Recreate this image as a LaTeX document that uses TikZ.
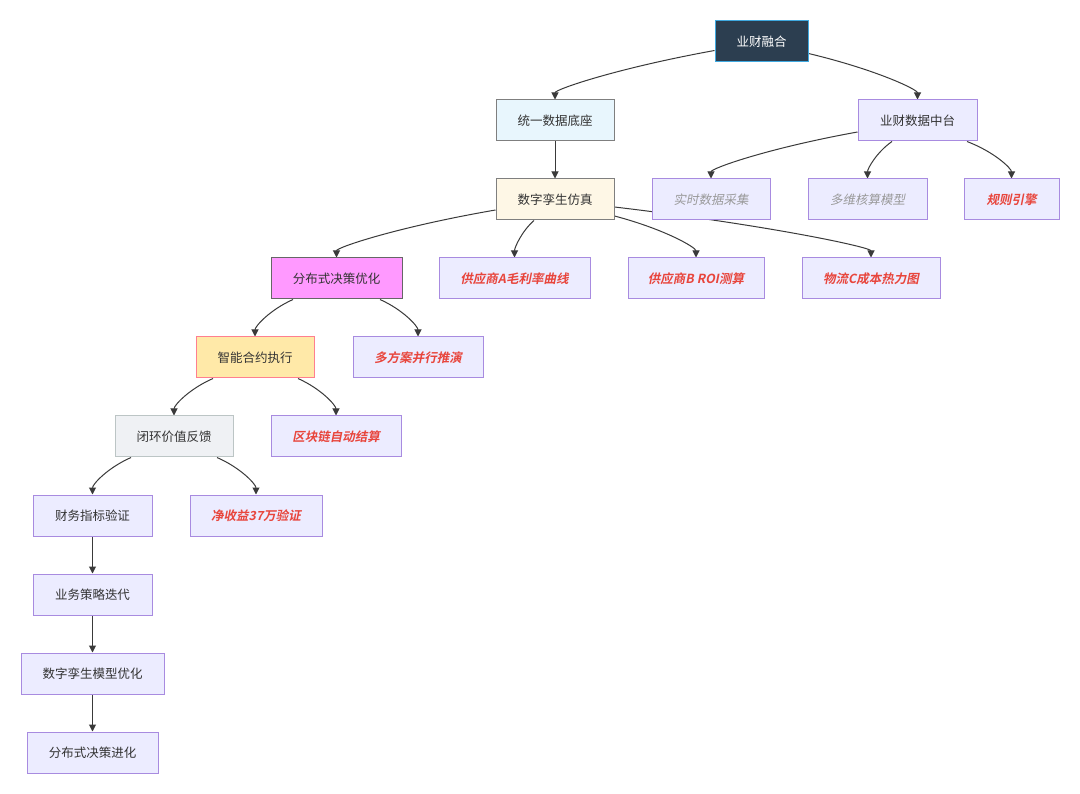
\documentclass[tikz,border=0pt]{standalone}
\usepackage{fontspec}
\setmainfont{Noto Sans CJK SC}
\newfontfamily\slfont{Noto Sans CJK SC}[FakeSlant=0.2]
\newfontfamily\bslfont{Noto Sans CJK SC Bold}[FakeSlant=0.2]
\usetikzlibrary{arrows.meta,calc}
\pgfdeclarelayer{bg}
\pgfsetlayers{bg,main}
\definecolor{txt}{HTML}{333333}
\definecolor{edgec}{HTML}{3A3A3A}
\definecolor{deffill}{HTML}{ECECFF}
\definecolor{defdraw}{HTML}{A88BE0}
\definecolor{redt}{HTML}{E8453C}
\definecolor{grayt}{HTML}{999999}
\definecolor{topfill}{HTML}{2C3E50}
\definecolor{topdraw}{HTML}{3FA9E0}
\definecolor{bluefill}{HTML}{E8F6FD}
\definecolor{greydraw}{HTML}{7F7F7F}
\definecolor{creamfill}{HTML}{FEF7E6}
\definecolor{magfill}{HTML}{FF99FF}
\definecolor{magdraw}{HTML}{666666}
\definecolor{yelfill}{HTML}{FFE9A8}
\definecolor{yeldraw}{HTML}{FF7F8F}
\definecolor{lgfill}{HTML}{EFF1F4}
\definecolor{lgdraw}{HTML}{BCC5C5}
\tikzset{
  box/.style={draw=defdraw, fill=deffill, line width=1pt, minimum height=41pt, inner sep=0pt,
    font=\fontsize{12.5}{14}\selectfont, text=txt},
  hl/.style={font=\bslfont\fontsize{12.5}{14}\selectfont, text=redt},
  gy/.style={font=\slfont\fontsize{12.5}{14}\selectfont, text=grayt},
  topbox/.style={box, fill=topfill, draw=topdraw, text=white},
  bluebox/.style={box, fill=bluefill, draw=greydraw},
  creambox/.style={box, fill=creamfill, draw=greydraw},
  magbox/.style={box, fill=magfill, draw=magdraw},
  yelbox/.style={box, fill=yelfill, draw=yeldraw},
  lgbox/.style={box, fill=lgfill, draw=lgdraw},
  edge/.style={draw=edgec, line width=1pt, -{Triangle[length=7pt,width=7pt]}},
}
\newcommand\crv[2]{%
  \path (#2) ++(0,-20) coordinate (kk);
  \draw[edge] (#1) .. controls ($(#1)!0.62!(kk)$) and ($(#2)+(0,-10)$) .. (#2);}
\begin{document}
\begin{tikzpicture}[x=1pt,y=-1pt]
\useasboundingbox (0,0) rectangle (1080,794);
% nodes
\node[topbox, minimum width=93pt] (top) at (761.5,41.5) {业财融合};
\node[bluebox, minimum width=118pt] (tydb) at (555,120.5) {统一数据底座};
\node[box, minimum width=119pt] (ycsj) at (917.5,120.5) {业财数据中台};
\node[creambox, minimum width=118pt] (szls) at (555,199.5) {数字孪生仿真};
\node[box, gy, minimum width=118pt] (sscj) at (711,199.5) {实时数据采集};
\node[box, gy, minimum width=119pt] (dwhs) at (867.5,199.5) {多维核算模型};
\node[box, hl, minimum width=95pt] (gzyq) at (1011.5,199.5) {规则引擎};
\node[magbox, minimum width=131pt] (fbs) at (336.5,278.5) {分布式决策优化};
\node[box, hl, minimum width=151pt] (gysA) at (514.5,278.5) {供应商A毛利率曲线};
\node[box, hl, minimum width=136pt] (gysB) at (696,278.5) {供应商B ROI测算};
\node[box, hl, minimum width=138pt] (wlC) at (871,278.5) {物流C成本热力图};
\node[yelbox, minimum width=118pt] (znhy) at (255,357.5) {智能合约执行};
\node[box, hl, minimum width=130pt] (dfa) at (418,357.5) {多方案并行推演};
\node[lgbox, minimum width=118pt] (bhjz) at (174,436.5) {闭环价值反馈};
\node[box, hl, minimum width=130pt] (qkl) at (336,436.5) {区块链自动结算};
\node[box, minimum width=119pt] (cwzb) at (92.5,515.5) {财务指标验证};
\node[box, hl, minimum width=132pt] (jsy) at (256,515.5) {净收益37万验证};
\node[box, minimum width=119pt] (ywcl) at (92.5,594.5) {业务策略迭代};
\node[box, minimum width=143pt] (szmx) at (92.5,673.5) {数字孪生模型优化};
\node[box, minimum width=131pt] (fbjh) at (92.5,752.5) {分布式决策进化};
% edges
\begin{pgfonlayer}{bg}
\fill[white] (0,0) rectangle (1080,794);
\coordinate (s1) at ($(top.west)+(0,9)$);
\coordinate (s2) at ($(top.east)+(0,12)$);
\coordinate (s4) at ($(ycsj.west)+(0,11.5)$);
\coordinate (s5) at ($(ycsj.south)+(-25.5,0)$);
\coordinate (s6) at ($(ycsj.south)+(49.5,0)$);
\coordinate (s7) at ($(szls.west)+(0,10.5)$);
\coordinate (s8) at ($(szls.south)+(-21,0)$);
\coordinate (s9) at ($(szls.east)+(0,16.5)$);
\coordinate (s10) at ($(szls.east)+(0,7.5)$);
\coordinate (s11) at ($(fbs.south)+(-43.5,0)$);
\coordinate (s12) at ($(fbs.south)+(43.5,0)$);
\coordinate (s13) at ($(znhy.south)+(-42,0)$);
\coordinate (s14) at ($(znhy.south)+(43,0)$);
\coordinate (s15) at ($(bhjz.south)+(-43,0)$);
\coordinate (s16) at ($(bhjz.south)+(43,0)$);
\crv{s1}{tydb.north}
\crv{s2}{ycsj.north}
\draw[edge] (tydb.south) -- (szls.north);
\crv{s4}{sscj.north}
\crv{s5}{dwhs.north}
\crv{s6}{gzyq.north}
\crv{s7}{fbs.north}
\crv{s8}{gysA.north}
\crv{s9}{gysB.north}
\crv{s10}{wlC.north}
\crv{s11}{znhy.north}
\crv{s12}{dfa.north}
\crv{s13}{bhjz.north}
\crv{s14}{qkl.north}
\crv{s15}{cwzb.north}
\crv{s16}{jsy.north}
\draw[edge] (cwzb.south) -- (ywcl.north);
\draw[edge] (ywcl.south) -- (szmx.north);
\draw[edge] (szmx.south) -- (fbjh.north);
\end{pgfonlayer}
\end{tikzpicture}
\end{document}
